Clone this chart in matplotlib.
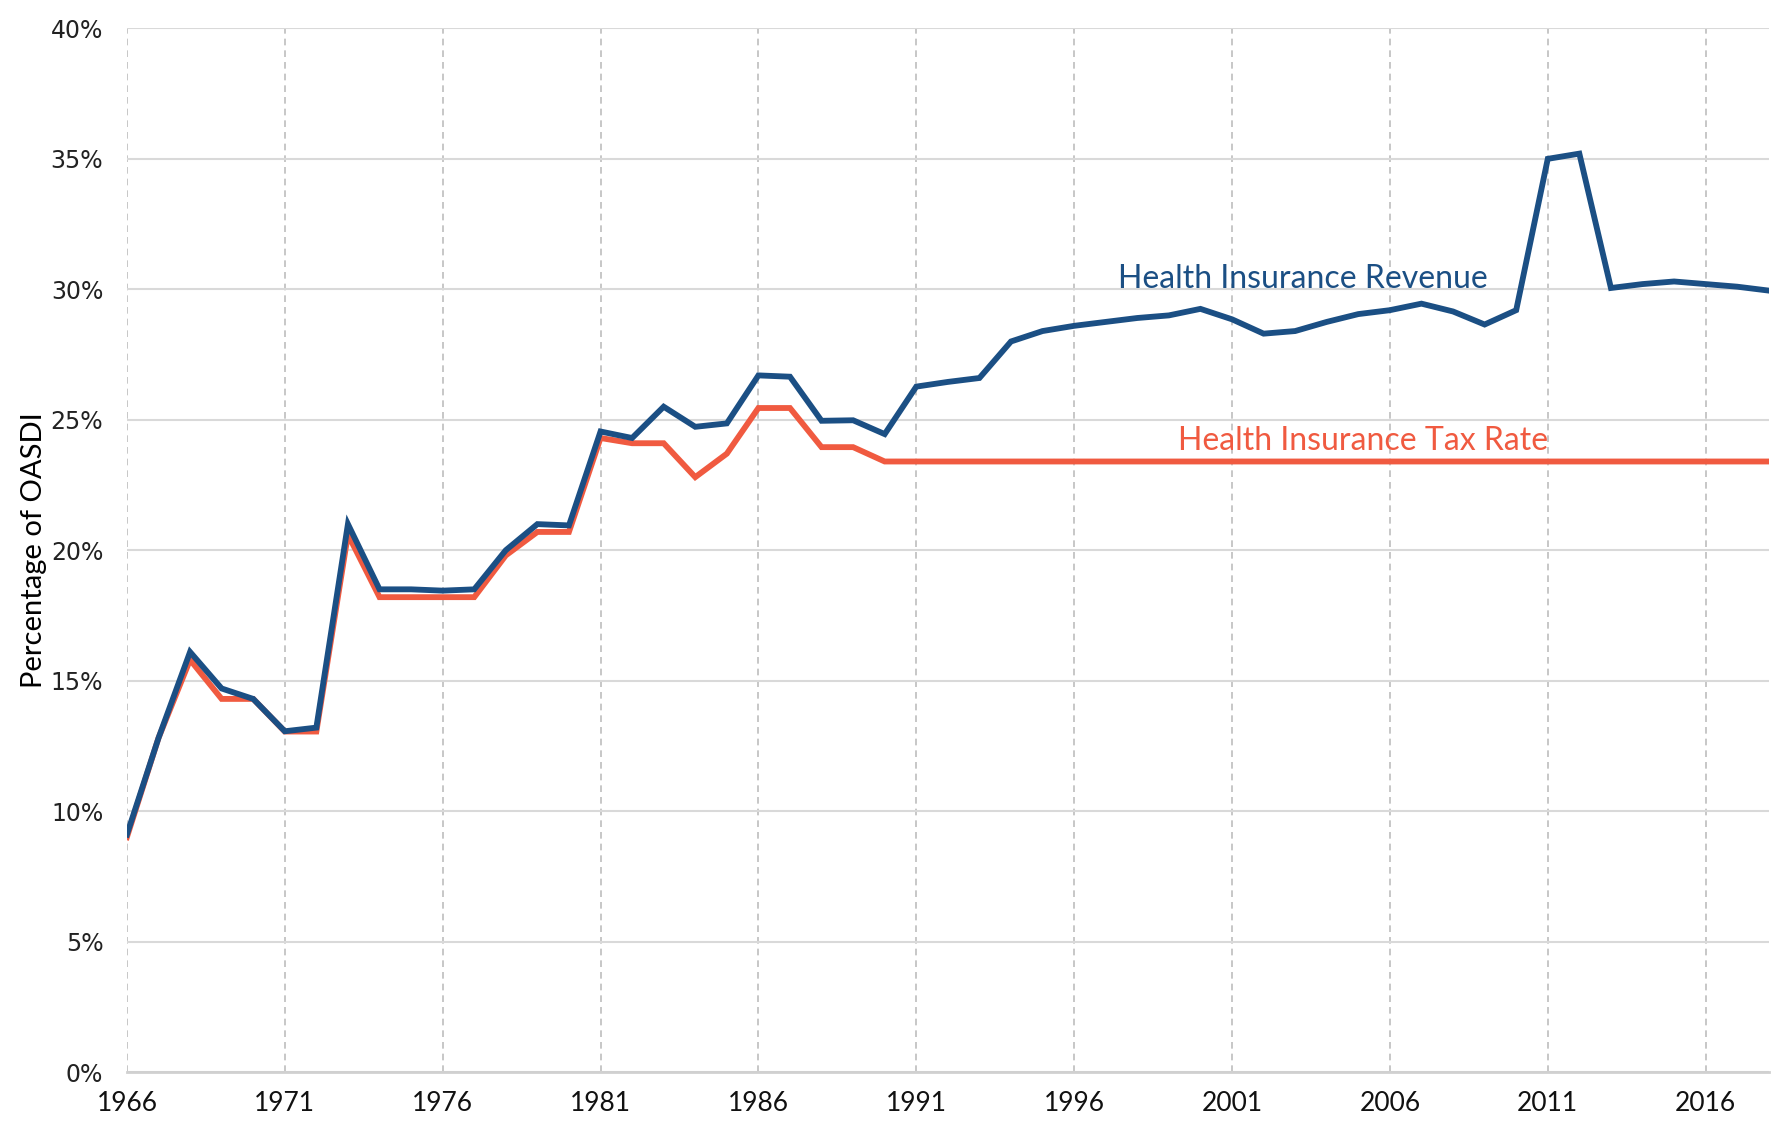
import numpy as np
import matplotlib.pyplot as plt
from matplotlib.ticker import FuncFormatter

# Data
years = list(range(1966, 2019))

revenue = [9.1, 12.8, 16.1, 14.7, 14.3, 13.06, 13.2, 21.0, 18.5, 18.5,
           18.45, 18.5, 20.0, 21.0, 20.95, 24.55, 24.3, 25.5, 24.73, 24.86,
           26.7, 26.65, 24.96, 24.98, 24.45, 26.27, 26.45, 26.6, 28.0, 28.4,
           28.6, 28.75, 28.9, 29.0, 29.25, 28.85, 28.3, 28.4, 28.75, 29.05,
           29.2, 29.45, 29.15, 28.65, 29.2, 35.0, 35.2, 30.05, 30.2, 30.3,
           30.2, 30.1, 29.95]

tax_rate = [9.0, 12.8, 15.8, 14.3, 14.3, 13.05, 13.05, 20.6, 18.2, 18.2,
            18.2, 18.2, 19.8, 20.7, 20.7, 24.3, 24.1, 24.1, 22.8, 23.7,
            25.45, 25.45, 23.95, 23.95] + [23.4] * 29

xticks = list(range(1966, 2017, 5))
yticks = list(range(0, 41, 5))

blue = '#1b4f84'
red = '#f05a40'

fig = plt.figure(figsize=(17.75, 11.27), dpi=100)
ax = fig.add_axes([0.0715, 0.0488, 0.925, 0.926])

ax.plot(years, tax_rate, color=red, lw=4.2, solid_joinstyle='miter', zorder=3)
ax.plot(years, revenue, color=blue, lw=4.2, solid_joinstyle='miter', zorder=4)

ax.set_xlim(1966, 2018)
ax.set_ylim(0, 40)
ax.set_xticks(xticks)
ax.set_yticks(yticks)
ax.yaxis.set_major_formatter(FuncFormatter(lambda v, p: '{:.0f}%'.format(v)))

ax.grid(axis='y', color='#d9d9d9', lw=1.5, ls='-', zorder=0)
ax.grid(axis='x', color='#bdbdbd', lw=1.2, ls=(0, (4, 3)), zorder=0)
for s in ['top', 'right', 'left']:
    ax.spines[s].set_visible(False)
ax.spines['bottom'].set_color('#d0d0d0')
ax.spines['bottom'].set_linewidth(2)
ax.tick_params(length=0)
ax.tick_params(axis='y', pad=17, labelsize=17, labelcolor='#222222')
ax.tick_params(axis='x', pad=14, labelsize=19, labelcolor='#111111')
for lbl in ax.get_xticklabels():
    lbl.set_fontfamily('Lato')

ax.set_ylabel('Percentage of OASDI', fontsize=21, family='Lato', labelpad=3)

ax.text(1997.4, 30.4, 'Health Insurance Revenue', color=blue, fontsize=23,
        family='Lato', ha='left', va='center')
ax.text(1999.3, 24.2, 'Health Insurance Tax Rate', color=red, fontsize=23,
        family='Lato', ha='left', va='center')

fig.savefig('out.png', dpi=100)
